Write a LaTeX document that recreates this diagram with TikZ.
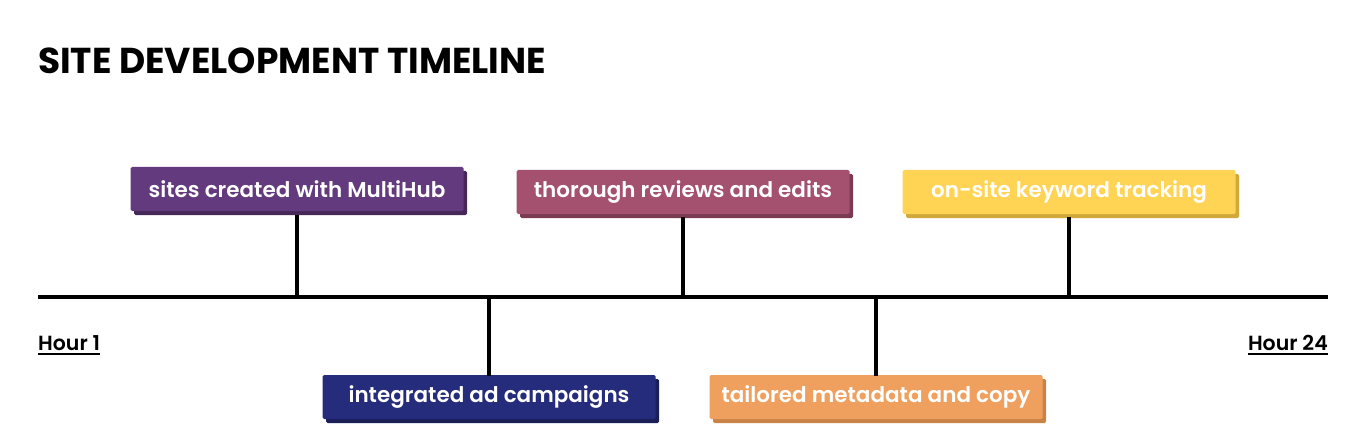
\documentclass[tikz,border=0pt]{standalone}
\usepackage{fontspec}
\setmainfont{Poppins}[BoldFont={* SemiBold}]
\newfontfamily\titlef{Poppins}[UprightFont={* Bold}]
\begin{document}
\begin{tikzpicture}[x=1pt,y=-1pt,
  box/.style={fill=#1,minimum width=333pt,minimum height=44pt,rounded corners=1.5pt,text=white,font=\fontsize{21.5}{24}\selectfont\bfseries,inner sep=0pt},
  shad/.style={fill=#1,rounded corners=1.5pt},
  stem/.style={line width=3.2pt},
  lab/.style={font=\fontsize{20.5}{24}\selectfont\bfseries,inner sep=0pt}]
\useasboundingbox (0,0) rectangle (1366,441);
\definecolor{c1}{HTML}{633A7E}\definecolor{s1}{HTML}{452858}
\definecolor{c2}{HTML}{A4506F}\definecolor{s2}{HTML}{7A3A52}
\definecolor{c3}{HTML}{FFD454}\definecolor{s3}{HTML}{D1A83A}
\definecolor{c4}{HTML}{252C7B}\definecolor{s4}{HTML}{1A1F58}
\definecolor{c5}{HTML}{F0A05E}\definecolor{s5}{HTML}{C98346}
\node[anchor=base west,inner sep=0pt,font=\titlef\fontsize{36}{40}\selectfont] (title) at (38,74) {SITE DEVELOPMENT TIMELINE};
\coordinate (L) at (38,297); \coordinate (R) at (1328,297);
\draw[stem] (L) -- (R);
\foreach \n/\x/\y in {1/297/189,2/683/192,3/1069/192,4/489/397,5/876/397}{
  \fill[shad=s\n] (\x-163,\y-18) rectangle (\x+170,\y+26);
}
\node[box=c1] (b1) at (297,189) {sites created with MultiHub};
\node[box=c2] (b2) at (683,192) {thorough reviews and edits};
\node[box=c3] (b3) at (1069,192) {on-site keyword tracking};
\node[box=c4] (b4) at (489,397) {integrated ad campaigns};
\node[box=c5] (b5) at (876,397) {tailored metadata and copy};
\coordinate (p1) at (297,297); \coordinate (p2) at (683,297); \coordinate (p3) at (1069,297);
\coordinate (p4) at (489,297); \coordinate (p5) at (876,297);
\draw[stem] (b1.south|-0,215) -- (p1);
\draw[stem] (b2.south|-0,217) -- (p2);
\draw[stem] (b3.south|-0,217) -- (p3);
\draw[stem] (p4) -- (b4.north|-0,376);
\draw[stem] (p5) -- (b5.north|-0,376);
\node[lab,anchor=base west] (h1) at (38,350) {Hour 1};
\node[lab,anchor=base east] (h24) at (1328,350) {Hour 24};
\draw[line width=1.8pt] (h1.base west)++(0,4) coordinate (u1) -- (h1.base east|-u1);
\draw[line width=1.8pt] (h24.base west)++(0,4) coordinate (u2) -- (h24.base east|-u2);
\end{tikzpicture}
\end{document}
